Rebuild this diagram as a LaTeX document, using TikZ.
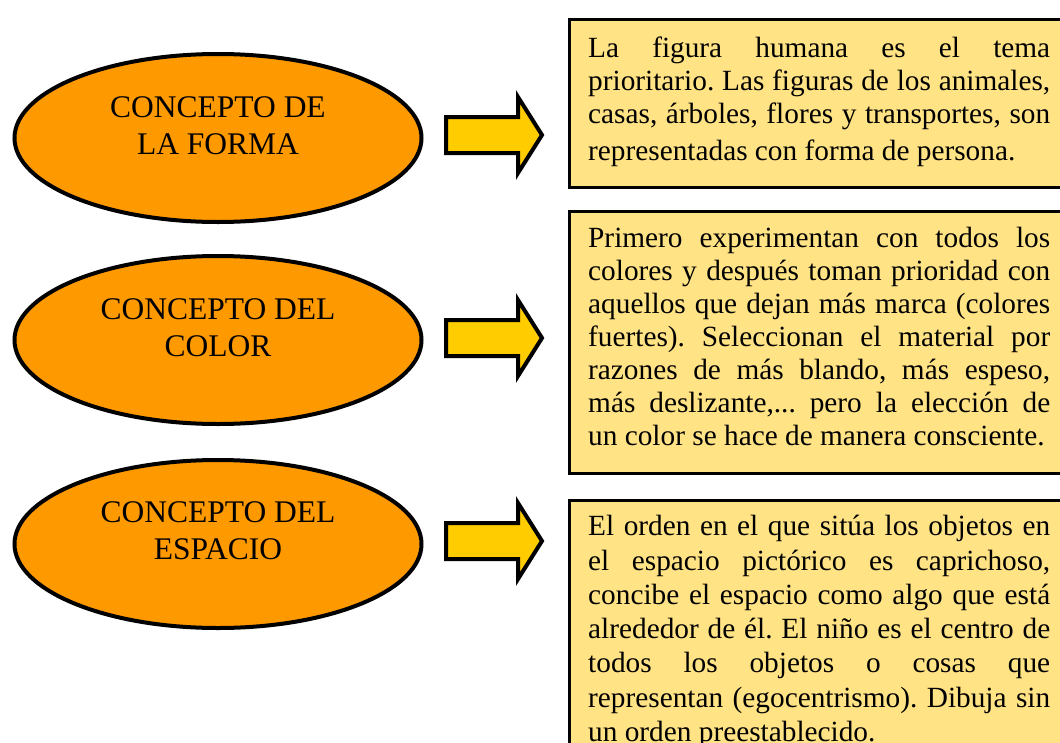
\documentclass[tikz,border=0pt]{standalone}
\usepackage{fontspec}
\setmainfont{Liberation Serif}
\usetikzlibrary{shapes.geometric}
\definecolor{ellfill}{HTML}{FF9900}
\definecolor{arrfill}{HTML}{FFCC00}
\definecolor{boxfill}{HTML}{FFE385}
\begin{document}
\frenchspacing
\begin{tikzpicture}[x=1pt,y=-1pt,
  concept/.style={ellipse, draw=black, line width=4pt, fill=ellfill,
    minimum width=407pt, minimum height=168pt, inner sep=0pt},
  conceptlabel/.style={align=center, inner sep=0pt,
    font=\fontsize{31.5}{37}\selectfont},
  infobox/.style={draw=black, line width=3pt, fill=boxfill,
    anchor=north west, inner sep=0pt, minimum width=493pt},
  infotext/.style={anchor=north west, text width=462pt, align=justify,
    inner sep=0pt, font=\fontsize{29.3}{33}\selectfont},
  blockarrow/.style={draw=black, line width=4pt, fill=arrfill, line join=miter}
]
\useasboundingbox (0,0) rectangle (1060,742);

% ellipses
\node[concept] (e1) at (218,138) {};
\node[concept] (e2) at (218,340) {};
\node[concept] (e3) at (218,544) {};
\node[conceptlabel] (l1) at ([yshift=12pt]e1.center) {CONCEPTO DE\\LA FORMA};
\node[conceptlabel] (l2) at ([yshift=12pt]e2.center) {CONCEPTO DEL\\COLOR};
\node[conceptlabel] (l3) at ([yshift=13pt]e3.center) {CONCEPTO DEL\\ESPACIO};

% block arrows
\foreach \c/\n in {135/1, 338/2, 541/3}{
  \draw[blockarrow] (446,\c-18) -- (518,\c-18) -- (518,\c-38) -- (542,\c)
    -- (518,\c+38) -- (518,\c+18) -- (446,\c+18) -- cycle;
}

% boxes
\node[infobox, minimum height=168pt] (b1) at (567.5,17.5) {};
\node[infobox, minimum height=262pt] (b2) at (567.5,209.5) {};
\node[infobox, minimum height=280pt] (b3) at (567.5,498.5) {};

\node[infotext] (t1) at (588,33.9) {\frenchspacing\tolerance=10000\hbadness=10000\strut
La figura humana es el tema\linebreak
prioritario. Las figuras de los animales,\linebreak
casas, árboles, flores y transportes, son\vadjust{\vskip4pt}\linebreak
representadas con forma de persona.};

\node[infotext] (t2) at (588,223.9) {\frenchspacing\tolerance=10000\hbadness=10000\strut
Primero experimentan con todos los\linebreak
colores y después toman prioridad con\linebreak
aquellos que dejan más marca (colores\linebreak
fuertes). Seleccionan el material por\linebreak
razones de más blando, más espeso,\linebreak
más deslizante,... pero la elección de\linebreak
un color se hace de manera consciente.};

\node[infotext, font=\fontsize{29.3}{34.3}\selectfont] (t3) at (588,511.5) {\frenchspacing\tolerance=10000\hbadness=10000\strut
El orden en el que sitúa los objetos en\linebreak
el espacio pictórico es caprichoso,\linebreak
concibe el espacio como algo que está\linebreak
alrededor de él. El niño es el centro de\linebreak
todos los objetos o cosas que\linebreak
representan (egocentrismo). Dibuja sin\linebreak
un orden preestablecido.};
\end{tikzpicture}
\end{document}
